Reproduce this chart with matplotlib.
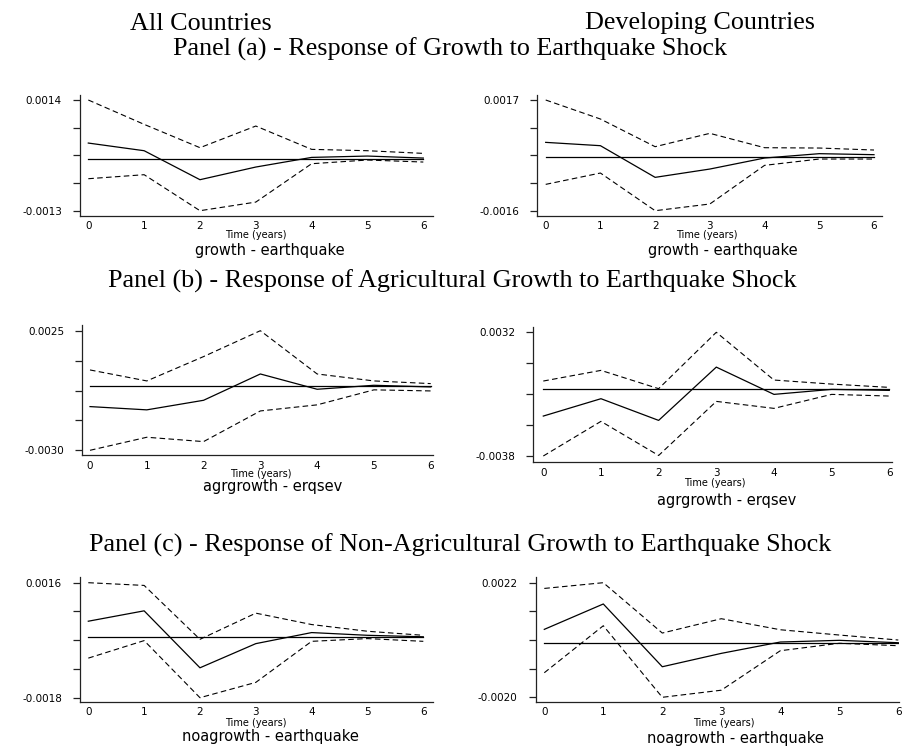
import matplotlib
matplotlib.use("Agg")
import matplotlib.pyplot as plt
from matplotlib.transforms import blended_transform_factory

W, H = 904, 749
steps = [0, 1, 2, 3, 4, 5, 6]

# ---- data ----
a_all_irf = [0.00039, 0.000203, -0.000504, -0.000195, 0.00004, 0.000073, 0.000024]
a_all_hi = [0.00144, 0.000846, 0.000277, 0.000805, 0.000236, 0.000203, 0.000138]
a_all_lo = [-0.00048, -0.000382, -0.00126, -0.00105, -0.000114, -0.000024, -0.000073]
a_dev_irf = [0.000437, 0.000338, -0.000606, -0.000358, -0.00003, 0.0001, 0.00007]
a_dev_hi = [0.0017, 0.001133, 0.000308, 0.000706, 0.000278, 0.000268, 0.000209]
a_dev_lo = [-0.000815, -0.000477, -0.0016, -0.0014, -0.000248, -0.00006, -0.00006]

b_all_irf = [-0.00095, -0.0011, -0.00066, 0.00055, -0.000153, 0.00003, -0.000046]
b_all_hi = [0.000735, 0.00023, 0.00135, 0.00254, 0.00055, 0.00023, 0.000107]
b_all_lo = [-0.00296, -0.00236, -0.00256, -0.00115, -0.00087, -0.00018, -0.00023]
b_dev_irf = [-0.00151, -0.000528, -0.001755, 0.00126, -0.000283, 0.0, -0.000057]
b_dev_hi = [0.000472, 0.001075, 0.00004, 0.00323, 0.000528, 0.0003, 0.000113]
b_dev_lo = [-0.00377, -0.00181, -0.00374, -0.00068, -0.001075, -0.000283, -0.000377]

c_all_irf = [0.000458, 0.000763, -0.000911, -0.000201, 0.000124, 0.000044, 0.0]
c_all_hi = [0.00159, 0.00151, -0.000074, 0.000695, 0.00036, 0.000163, 0.000044]
c_all_lo = [-0.000627, -0.000112, -0.00179, -0.00134, -0.000133, -0.000053, -0.000133]
c_dev_irf = [0.00049, 0.00142, -0.00088, -0.00039, 0.000026, 0.000088, 0.0]
c_dev_hi = [0.00199, 0.0022, 0.000355, 0.00088, 0.000476, 0.000282, 0.000099]
c_dev_lo = [-0.0011, 0.000623, -0.002, -0.00174, -0.000293, -0.00002, -0.00011]

ytick_labels = {
    "a_all": ["-0.0013", "0.0014"], "a_dev": ["-0.0016", "0.0017"],
    "b_all": ["-0.0030", "0.0025"], "b_dev": ["-0.0038", "0.0032"],
    "c_all": ["-0.0018", "0.0016"], "c_dev": ["-0.0020", "0.0022"],
}
subtitles = {"a": "growth - earthquake", "b": "agrgrowth - erqsev",
             "c": "noagrowth - earthquake"}
col_titles = ["All Countries", "Developing Countries"]
panel_titles = {
    "a": "Panel (a) - Response of Growth to Earthquake Shock",
    "b": "Panel (b) - Response of Agricultural Growth to Earthquake Shock",
    "c": "Panel (c) - Response of Non-Agricultural Growth to Earthquake Shock",
}
xlabel = "Time (years)"

series = {
    "a_all": (a_all_irf, a_all_hi, a_all_lo), "a_dev": (a_dev_irf, a_dev_hi, a_dev_lo),
    "b_all": (b_all_irf, b_all_hi, b_all_lo), "b_dev": (b_dev_irf, b_dev_hi, b_dev_lo),
    "c_all": (c_all_irf, c_all_hi, c_all_lo), "c_dev": (c_dev_irf, c_dev_hi, c_dev_lo),
}

# ---- layout (pixels) ----
layout = {
    "a_all": (80, 432.7, 95, 215.7, 100, 210.7, 88.3, 423.3, 225.7, (256, 235.5), (270, 250)),
    "a_dev": (537.3, 881.7, 95.5, 215.7, 100, 210.7, 545.7, 874, 225.7, (707, 235.5), (723, 250)),
    "b_all": (82.3, 433.3, 325, 455, 330.7, 450.3, 90, 430.7, 465.7, (261, 474), (273, 487)),
    "b_dev": (533.3, 891.7, 326.7, 461.7, 332.3, 456, 543.3, 889.3, 472.7, (715, 483), (727, 500)),
    "c_all": (80, 432.7, 576.7, 702.3, 582.7, 697.7, 88.3, 423.3, 711.7, (256, 722.5), (270, 737)),
    "c_dev": (535.7, 899.5, 576.7, 702.3, 582.7, 697.3, 544.3, 898.3, 711.7, (723.5, 723.5), (735.7, 738)),
}

plt.rcParams["font.family"] = ["DejaVu Sans"]
fig = plt.figure(figsize=(W / 100, H / 100), dpi=100)
fig.patch.set_facecolor("white")


def fx(x):
    return x / W


def fy(y):
    return 1 - y / H


for key, (irf, hi, lo) in series.items():
    L, R, T, B, phi, plo, px0, px6, tly, (xlx, xly), (stx, sty) = layout[key]
    ax = fig.add_axes([fx(L), fy(B), (R - L) / W, (B - T) / H])
    vhi, vlo = max(hi), min(lo)
    u = (vhi - vlo) / (plo - phi)
    ax.set_ylim(vlo - (B - plo) * u, vhi + (phi - T) * u)
    ux = (steps[-1] - steps[0]) / (px6 - px0)
    ax.set_xlim(steps[0] - (px0 - L) * ux, steps[-1] + (R - px6) * ux)

    ax.plot(steps, [0] * len(steps), color="black", lw=0.9)
    ax.plot(steps, hi, color="black", lw=0.8, linestyle=(0, (5, 3)))
    ax.plot(steps, lo, color="black", lw=0.8, linestyle=(0, (5, 3)))
    ax.plot(steps, irf, color="black", lw=0.9)

    for s in ["top", "right"]:
        ax.spines[s].set_visible(False)
    for s in ["left", "bottom"]:
        ax.spines[s].set_color("#222222")
        ax.spines[s].set_linewidth(0.9)

    ticks = [vlo + i * (vhi - vlo) / 4 for i in range(5)]
    ax.set_yticks(ticks)
    labs = ytick_labels[key]
    ax.set_yticklabels([labs[0], "", "", "", labs[1]])
    ax.tick_params(axis="y", length=5, width=0.9, color="#222222", pad=8, labelsize=7.5)
    ax.set_xticks(steps)
    ax.set_xticklabels([])
    ax.tick_params(axis="x", length=0)
    tr = blended_transform_factory(ax.transData, fig.transFigure)
    for s in steps:
        ax.text(s, fy(tly), str(s), transform=tr, ha="center", va="center", fontsize=7.5)
    fig.text(fx(xlx), fy(xly), xlabel, ha="center", va="center", fontsize=7)
    fig.text(fx(stx), fy(sty), subtitles[key[0]], ha="center", va="center", fontsize=10.5)
    ax.set_facecolor("white")

serif = ["Liberation Serif", "DejaVu Serif"]
fs = 18.8
fig.text(fx(201.3), fy(29.5), col_titles[0], ha="center", va="baseline", fontsize=fs, family=serif)
fig.text(fx(700), fy(29.5), col_titles[1], ha="center", va="baseline", fontsize=fs, family=serif)
fig.text(fx(450.5), fy(55.5), panel_titles["a"], ha="center", va="baseline", fontsize=fs, family=serif)
fig.text(fx(452.5), fy(288), panel_titles["b"], ha="center", va="baseline", fontsize=fs, family=serif)
fig.text(fx(460.5), fy(552), panel_titles["c"], ha="center", va="baseline", fontsize=fs, family=serif)

fig.savefig("out.png", dpi=100, facecolor="white")
